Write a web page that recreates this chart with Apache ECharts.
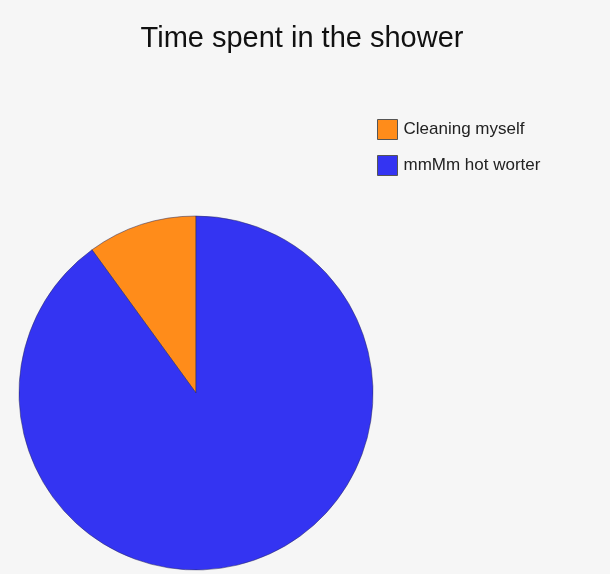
<!DOCTYPE html>
<html><head><meta charset="utf-8">
<script src="https://cdn.jsdelivr.net/npm/echarts@6/dist/echarts.min.js"></script>
<style>html,body{margin:0;padding:0;background:#f6f6f6;}#c{width:610px;height:574px;}</style>
</head><body><div id="c"></div>
<script>
const categories = ['Cleaning myself', 'mmMm hot worter'];
const values = [10, 90];
const colors = ['#ff8c1a', '#3434f2'];
const chart = echarts.init(document.getElementById('c'), null, {renderer:'canvas'});
chart.setOption({
  backgroundColor: '#f6f6f6',
  animation: false,
  title: {
    text: 'Time spent in the shower',
    left: 297, top: 19, textAlign: 'center',
    textStyle: {fontFamily: 'Liberation Sans, Arial', fontSize: 29, fontWeight: 'normal', color: '#111'}
  },
  legend: {
    orient: 'vertical', left: 372, top: 114,
    itemWidth: 20, itemHeight: 20, itemGap: 15,
    icon: 'rect',
    data: categories,
    itemStyle: {borderColor: '#555', borderWidth: 1},
    textStyle: {fontFamily: 'Liberation Sans, Arial', fontSize: 17, color: '#222', padding: [2,0,0,1]}
  },
  series: [{
    type: 'pie',
    center: [196, 393],
    radius: [0, 177],
    startAngle: 90,
    clockwise: false,
    label: {show: false},
    labelLine: {show: false},
    emphasis: {disabled: true},
    itemStyle: {borderColor: 'rgba(40,40,90,0.5)', borderWidth: 1},
    data: categories.map((n, i) => ({name: n, value: values[i], itemStyle: {color: colors[i]}}))
  }]
});
</script></body></html>
